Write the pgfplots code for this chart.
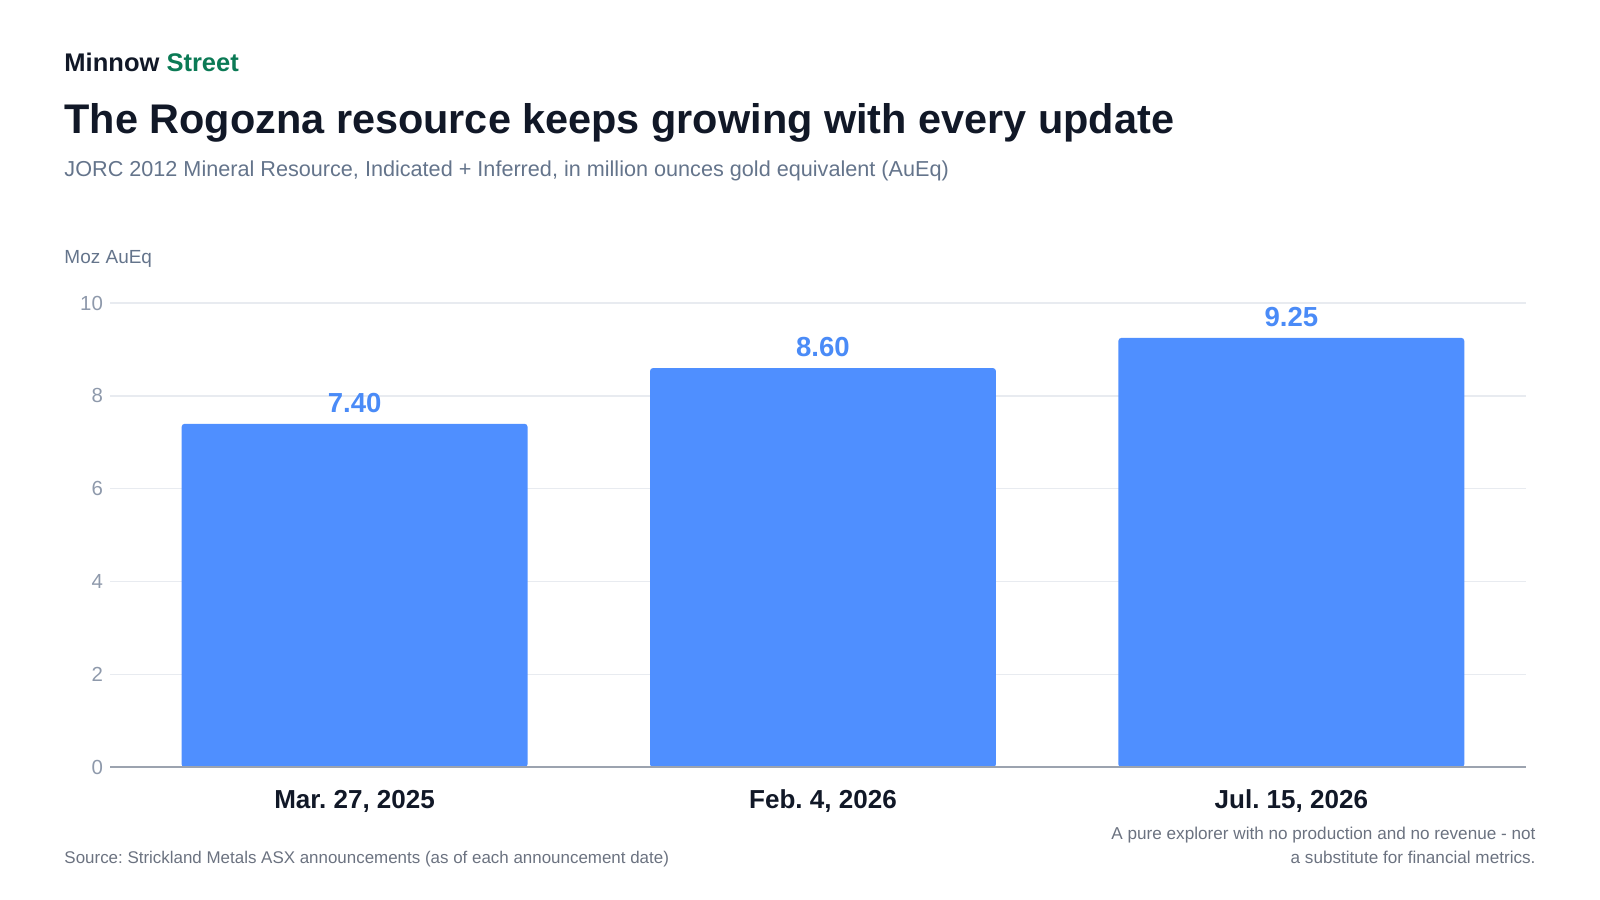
\documentclass[border=0pt]{standalone}
\usepackage{pgfplots}
\pgfplotsset{compat=1.18}
\usepackage{fontspec}
\setmainfont{Liberation Sans}
\frenchspacing
\definecolor{ink}{HTML}{111827}
\definecolor{brandgreen}{HTML}{0B7A55}
\definecolor{subgray}{HTML}{64748B}
\definecolor{tickgray}{HTML}{8E99AB}
\definecolor{gridgray}{HTML}{E8EBF0}
\definecolor{axisgray}{HTML}{9CA3AF}
\definecolor{barblue}{HTML}{4F8FFF}
\definecolor{labelblue}{HTML}{4A8BF7}
\definecolor{footgray}{HTML}{6B7280}
\pgfplotstableread{
x value
0 7.40
1 8.60
2 9.25
}\resdata
\begin{document}
\frenchspacing
\begin{tikzpicture}[x=1pt,y=1pt]
\path (0,0) rectangle (1568,882);
% header
\node[anchor=base west, inner sep=0pt] at (63,812) {\fontsize{25}{28}\selectfont\bfseries\color{ink}Minnow \textcolor{brandgreen}{Street}};
\node[anchor=base west, inner sep=0pt] at (63,751) {\fontsize{40.6}{46}\selectfont\bfseries\color{ink}The Rogozna resource keeps growing with every update};
\node[anchor=base west, inner sep=0pt] at (63,709) {\fontsize{21.2}{24}\selectfont\color{subgray}JORC 2012 Mineral Resource, Indicated + Inferred, in million ounces gold equivalent (AuEq)};
\node[anchor=base west, inner sep=0pt] at (63,624) {\fontsize{18.6}{22}\selectfont\color{subgray}Moz AuEq};
\begin{axis}[
  at={(108pt,130pt)}, anchor=south west,
  scale only axis, width=1387pt, height=455pt,
  xmin=-0.5218, xmax=2.5, ymin=0, ymax=10,
  ytick={0,2,4,6,8,10},
  xtick={0,1,2},
  xticklabels={Mar. 27{,} 2025, Feb. 4{,} 2026, Jul. 15{,} 2026},
  axis line style={draw=none},
  major tick length=0pt,
  tick style={draw=none},
  ymajorgrids, grid style={gridgray, line width=1.2pt},
  yticklabel style={font=\fontsize{20}{22}\selectfont, text=tickgray, anchor=east, inner sep=0pt, xshift=-7pt},
  xticklabel style={font=\fontsize{25.5}{28}\selectfont\bfseries\frenchspacing, text=ink, anchor=base, inner sep=0pt, yshift=-40pt},
  /pgf/number format/assume math mode=true,
  clip=false,
  ybar, bar width=339pt,
  nodes near coords={\pgfmathprintnumber[fixed,fixed zerofill,precision=2]{\pgfplotspointmeta}},
  every node near coord/.append style={font=\fontsize{27}{30}\selectfont\bfseries, text=labelblue, anchor=base, inner sep=0pt, yshift=11pt, /pgf/number format/assume math mode=true},
]
\addplot[fill=barblue, draw=none, rounded corners=3pt] table[x=x, y=value] {\resdata};
\draw[axisgray, line width=2pt] (axis cs:-0.5218,0) -- (axis cs:2.5,0);
\end{axis}
% footer
\node[anchor=base west, inner sep=0pt] at (63,36) {\fontsize{16.6}{19}\selectfont\color{footgray}Source: Strickland Metals ASX announcements (as of each announcement date)};
\node[anchor=base east, inner sep=0pt] at (1505,59) {\fontsize{16.8}{19}\selectfont\color{footgray}A pure explorer with no production and no revenue - not};
\node[anchor=base east, inner sep=0pt] at (1505,36) {\fontsize{16.8}{19}\selectfont\color{footgray}a substitute for financial metrics.};
\end{tikzpicture}
\end{document}
